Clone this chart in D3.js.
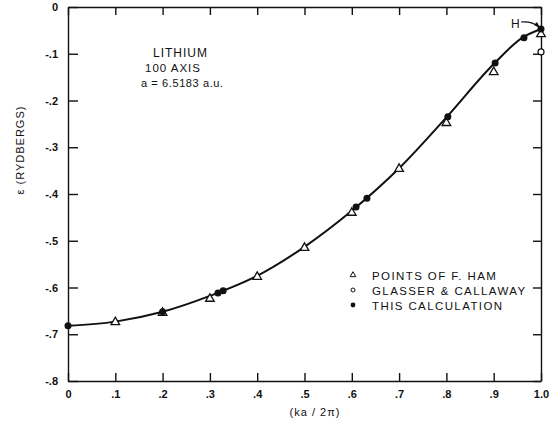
<!DOCTYPE html>
<html>
<head>
<meta charset="utf-8">
<script src="https://cdn.jsdelivr.net/npm/d3@7"></script>
<style>
body { margin:0; background:#fff; }
svg { display:block; font-family:"Liberation Sans", Arial, sans-serif; }
.axis path, .axis line { stroke:#111; stroke-width:1.4; }
.axis text { font-size:11px; font-weight:bold; fill:#111; }
.lbl { font-size:11px; fill:#111; letter-spacing:1px; }
</style>
</head>
<body>
<div id="canvas"></div>
<script>
// ka/2pi tick values and labels
var xTicks = [0, .1, .2, .3, .4, .5, .6, .7, .8, .9, 1.0];
var xLabels = ["0", ".1", ".2", ".3", ".4", ".5", ".6", ".7", ".8", ".9", "1.0"];
var yTicks = [0, -.1, -.2, -.3, -.4, -.5, -.6, -.7, -.8];
var yLabels = ["0", "-.1", "-.2", "-.3", "-.4", "-.5", "-.6", "-.7", "-.8"];

// smooth band curve
var curveX = [0, .1, .2, .3, .4, .5, .6, .7, .8, .9, .96, 1.0];
var curveY = [-.682, -.673, -.652, -.618, -.575, -.513, -.436, -.345, -.236, -.122, -.066, -.047];

// points of F. Ham (triangles)
var hamX = [.1, .2, .3, .4, .5, .6, .7, .8, .9, 1.0];
var hamY = [-.672, -.652, -.622, -.575, -.513, -.438, -.344, -.246, -.137, -.056];

// Glasser & Callaway (open circle)
var glasserX = [1.0];
var glasserY = [-.096];

// this calculation (filled dots)
var calcX = [0, .2, .317, .328, .609, .632, .803, .903, .964, 1.0];
var calcY = [-.682, -.652, -.612, -.607, -.428, -.409, -.235, -.120, -.066, -.047];

var legendItems = ["POINTS OF F. HAM", "GLASSER & CALLAWAY", "THIS CALCULATION"];

var W = 554, H = 429;
var m = {t:7, r:13, b:48, l:68};

var svg = d3.select('#canvas').append('svg')
    .attr('width', W).attr('height', H);

var x = d3.scaleLinear().domain([0, 1]).range([m.l, W - m.r]);
var y = d3.scaleLinear().domain([0, -.8]).range([m.t, H - m.b]);

// frame with inward ticks on all four sides
svg.append('g').attr('class','axis')
    .attr('transform','translate('+m.l+',0)')
    .call(d3.axisLeft(y).tickValues(yTicks).tickSize(-10).tickSizeOuter(0).tickPadding(10)
        .tickFormat(function(d,i){ return yLabels[i]; }));

svg.append('g').attr('class','axis')
    .attr('transform','translate(0,'+(H - m.b)+')')
    .call(d3.axisBottom(x).tickValues(xTicks).tickSize(-8).tickSizeOuter(0).tickPadding(9)
        .tickFormat(function(d,i){ return xLabels[i]; }));

svg.append('g').attr('class','axis')
    .attr('transform','translate(0,'+m.t+')')
    .call(d3.axisTop(x).tickValues(xTicks).tickSize(-8).tickSizeOuter(0).tickFormat(''));

svg.append('g').attr('class','axis')
    .attr('transform','translate('+(W - m.r)+',0)')
    .call(d3.axisRight(y).tickValues(yTicks).tickSize(-8).tickSizeOuter(0).tickFormat(''));

// axis titles
svg.append('text').attr('class','lbl')
    .attr('x', 315).attr('y', 416)
    .attr('text-anchor','middle')
    .text('(ka / 2π)');

svg.append('text').attr('class','lbl')
    .attr('transform','translate(24,150) rotate(-90)')
    .attr('text-anchor','middle')
    .text('ε (RYDBERGS)');

// curve
var curveData = curveX.map(function(v,i){ return {x:v, y:curveY[i]}; });
svg.append('path')
    .datum(curveData)
    .attr('fill','none')
    .attr('stroke','#111')
    .attr('stroke-width',2)
    .attr('d', d3.line()
        .x(function(d){ return x(d.x); })
        .y(function(d){ return y(d.y); })
        .curve(d3.curveMonotoneX));

var tri = d3.symbol().type(d3.symbolTriangle).size(32);

svg.selectAll('.ham')
    .data(hamX.map(function(v,i){ return {x:v, y:hamY[i]}; }))
    .enter().append('path').attr('class','ham')
    .attr('d', tri)
    .attr('transform', function(d){ return 'translate('+x(d.x)+','+(y(d.y)+1)+')'; })
    .attr('fill','#fff').attr('stroke','#111').attr('stroke-width',1.3);

svg.selectAll('.glas')
    .data(glasserX.map(function(v,i){ return {x:v, y:glasserY[i]}; }))
    .enter().append('circle').attr('class','glas')
    .attr('cx', function(d){ return x(d.x); })
    .attr('cy', function(d){ return y(d.y); })
    .attr('r', 3)
    .attr('fill','#fff').attr('stroke','#111').attr('stroke-width',1.2);

svg.selectAll('.calc')
    .data(calcX.map(function(v,i){ return {x:v, y:calcY[i]}; }))
    .enter().append('circle').attr('class','calc')
    .attr('cx', function(d){ return x(d.x); })
    .attr('cy', function(d){ return y(d.y); })
    .attr('r', 3.5)
    .attr('fill','#111');

// "H" label with arrow to the end point
var hx = x(1.0), hy = y(-.047);
svg.append('text').attr('class','lbl')
    .attr('x', hx - 30).attr('y', hy - 1)
    .style('font-size','12px')
    .text('H');
svg.append('path')
    .attr('d','M'+(hx-20)+','+(hy-7)+' Q'+(hx-9)+','+(hy-8)+' '+(hx-2)+','+(hy-2))
    .attr('fill','none').attr('stroke','#111').attr('stroke-width',1.1);
svg.append('path')
    .attr('d','M'+(hx-1)+','+(hy-1)+' L'+(hx-7)+','+(hy-4)+' L'+(hx-4)+','+(hy-7)+' Z')
    .attr('fill','#111');

// description block
var desc = svg.append('g').attr('class','lbl');
desc.append('text').attr('x',153).attr('y',57).style('font-size','12px').text('LITHIUM');
desc.append('text').attr('x',145).attr('y',72).style('font-size','11.5px').text('100  AXIS');
desc.append('text').attr('x',141).attr('y',87).style('letter-spacing','0.6px').text('a = 6.5183 a.u.');

// legend
var lg = svg.append('g').attr('transform','translate(353,275)');
var rows = lg.selectAll('g').data(legendItems).enter().append('g')
    .attr('transform', function(d,i){ return 'translate(0,'+(i*15)+')'; });
rows.append('text').attr('class','lbl')
    .attr('x', 19).attr('y', 4.5)
    .style('font-size','11.5px').style('letter-spacing','1.4px')
    .text(function(d){ return d; });
lg.append('path').attr('d', d3.symbol().type(d3.symbolTriangle).size(14))
    .attr('fill','#fff').attr('stroke','#111').attr('stroke-width',1);
lg.append('circle').attr('cy',15).attr('r',2)
    .attr('fill','#fff').attr('stroke','#111').attr('stroke-width',1);
lg.append('circle').attr('cy',30).attr('r',2.4).attr('fill','#111');
</script>
</body>
</html>
